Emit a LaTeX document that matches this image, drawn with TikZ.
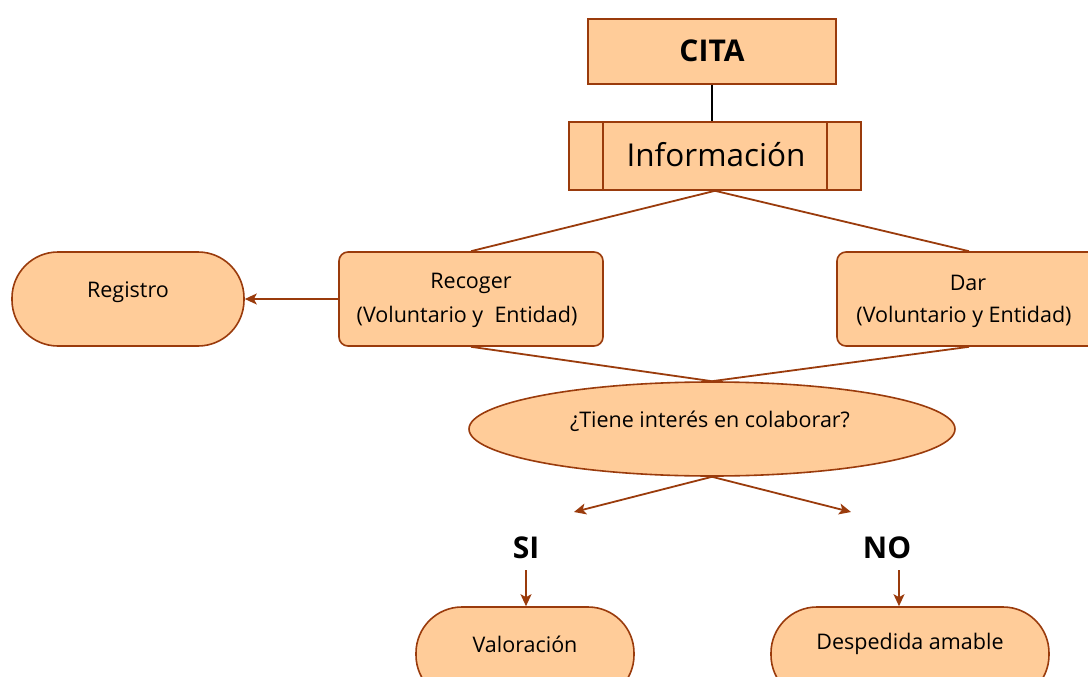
\documentclass[tikz,border=0pt]{standalone}
\usepackage{fontspec}
\setmainfont{Open Sans}
\usetikzlibrary{arrows.meta,shapes.geometric}
\definecolor{peach}{HTML}{FFCC99}
\definecolor{brn}{HTML}{9A3B0C}
\begin{document}
\begin{tikzpicture}[x=1pt,y=-1pt,
  box/.style={draw=brn,fill=peach,line width=1.6pt,inner sep=0pt},
  conn/.style={draw=brn,line width=1.8pt},
  arr/.style={conn,-{Stealth[length=12pt,width=11pt,inset=3pt]}},
  txt/.style={font=\fontsize{21.5}{26}\selectfont},
  big/.style={font=\bfseries\fontsize{30}{36}\selectfont}]
\useasboundingbox (0,0) rectangle (1088,677);
\clip (0,0) rectangle (1088,677);
\fill[white] (0,0) rectangle (1088,677);
% nodes
\node[box,minimum width=248pt,minimum height=65pt] (cita) at (712,51.5) {};
\node[big] (citat) at (712,51) {CITA};
\node[box,minimum width=292pt,minimum height=68pt] (info) at (715,156) {};
\node[font=\fontsize{31.5}{38}\selectfont] (infot) at (716,155) {Información};
\draw[brn,line width=1.6pt] ([xshift=35pt]info.north west) -- ([xshift=35pt]info.south west);
\draw[brn,line width=1.6pt] ([xshift=-35pt]info.north east) -- ([xshift=-35pt]info.south east);
\node[box,rounded corners=9pt,minimum width=264pt,minimum height=94pt] (rec) at (471,299) {};
\node[txt] (rect1) at (471,283) {Recoger};
\node[txt] (rect2) at (467,317) {(Voluntario y\ \ Entidad)};
\node[box,rounded corners=46pt,minimum width=232pt,minimum height=94pt] (reg) at (128,299) {};
\node[txt] (regt) at (128,292) {Registro};
\node[box,rounded corners=9pt,minimum width=264pt,minimum height=94pt] (dar) at (969,299) {};
\node[txt] (dart1) at (968,283) {Dar};
\node[txt] (dart2) at (964,317) {(Voluntario y Entidad)};
\node[box,ellipse,minimum width=486pt,minimum height=94pt] (q) at (712,429) {};
\node[txt] (qt) at (710,421) {¿Tiene interés en colaborar?};
\node[big] (si) at (526,548) {SI};
\node[big] (no) at (887,548) {NO};
\node[box,rounded corners=46pt,minimum width=218pt,minimum height=94pt] (val) at (525,654) {};
\node[txt] (valt) at (525,644) {Valoración};
\node[box,rounded corners=46pt,minimum width=278pt,minimum height=94pt] (desp) at (910,654) {};
\node[txt] (despt) at (910,644) {Despedida amable};
% coordinates
\coordinate (siA) at (574,512);
\coordinate (noA) at (851,512);
\coordinate (siS) at (526,570);
\coordinate (noS) at (899,570);
% connectors
\draw[line width=1.5pt] (cita.south -| 712,0) -- (info.north -| 712,0);
\draw[conn] (info.south) -- (rec.north);
\draw[conn] (info.south) -- (dar.north);
\draw[arr] (rec.west) -- (reg.east);
\draw[conn] (rec.south) -- (q.north);
\draw[conn] (dar.south) -- (q.north);
\draw[arr] (q.south) -- (siA);
\draw[arr] (q.south) -- (noA);
\draw[arr] (siS) -- (val.north -| siS);
\draw[arr] (noS) -- (desp.north -| noS);
\end{tikzpicture}
\end{document}
